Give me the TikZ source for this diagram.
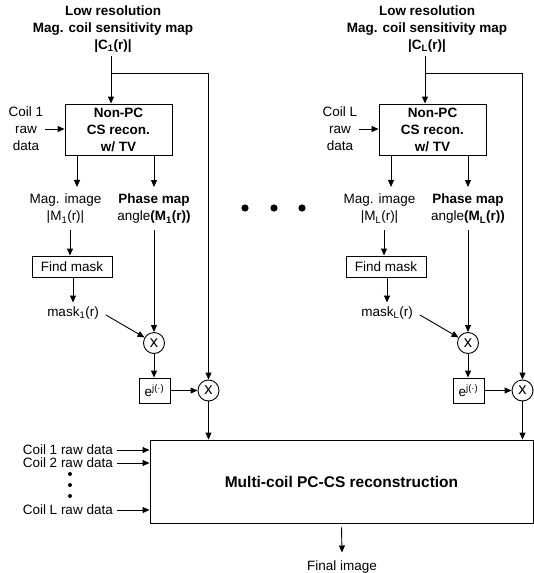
\documentclass[tikz,border=0pt]{standalone}
\usepackage{fontspec}
\setmainfont{Liberation Sans}
\usetikzlibrary{arrows.meta,calc}
\tikzset{
 base/.style={font=\fontsize{13.5}{17}\selectfont, align=center, inner sep=1pt},
 bt/.style={base, font=\fontsize{13.5}{17}\selectfont\bfseries},
 rect/.style={draw, line width=0.9pt},
 circ/.style={draw, circle, minimum size=21pt, inner sep=0pt, line width=0.9pt, font=\fontsize{16.5}{16}\selectfont},
 arr/.style={-{Triangle[length=7pt,width=6pt]}, line width=0.9pt},
}
\newcommand\coilcolumn[4]{%
\begin{scope}[xshift=#4]
\node[bt] (title#1) at (113,29) {Low resolution\\Mag. coil sensitivity map\\|C\textsubscript{#2}(r)|};
\node[bt, rect, minimum width=107pt, minimum height=51pt] (box#1) at (118.5,129.5) {Non-PC\\CS recon.\\w/ TV};
\node[base] (coil#1) at (26,129) {Coil #3\\raw\\data};
\node[base] (mag#1) at (65.5,209) {Mag. image\\|M\textsubscript{#2}(r)|};
\node[bt] (phase#1) at (154,209) {Phase map\\{\mdseries angle}(M\textsubscript{#2}(r))};
\node[base, rect, minimum width=80pt, minimum height=21pt] (mask#1) at (72,266.5) {Find mask};
\node[base] (mk#1) at (73,313) {mask\textsubscript{#2}(r)};
\node[circ] (ca#1) at (154,343) {x};
\node[base, rect, minimum width=31pt, minimum height=25pt, inner sep=0pt] (exp#1) at (154.5,390.5) {e\textsuperscript{j(\textperiodcentered)}};
\node[circ] (cb#1) at (208.5,390.5) {x};
\coordinate (top#1) at (111,56);
\coordinate (br#1) at (111,73);
\draw[arr] (top#1) -- (top#1 |- box#1.north);
\draw[arr] (br#1) -| (cb#1.north);
\draw[arr] ($(coil#1.east)+(1,0)$) -- (box#1.west |- coil#1.east);
\draw[arr] ($(box#1.south)+(-41.5,0)$) -- ($(mag#1.north)+(11.5,-6)$);
\draw[arr] (phase#1.north |- box#1.south) -- ($(phase#1.north)+(0,-6)$);
\draw[arr] ($(mag#1.south -| mask#1.north)+(-2,5)$) -- ($(mask#1.north)+(-2,0)$);
\draw[arr] (mask#1.south -| mk#1.north) -- ($(mk#1.north)+(0,-3)$);
\draw[arr] ($(mk#1.east)+(6,2)$) -- (ca#1);
\draw[arr] ($(phase#1.south)+(0,5)$) -- (ca#1.north);
\draw[arr] (ca#1.south) -- (exp#1.north -| ca#1.south);
\draw[arr] (exp#1.east) -- (cb#1.west);
\draw[arr] (cb#1.south) -- (cb#1.south |- big.north);
\end{scope}}
\begin{document}
\begin{tikzpicture}[x=1pt,y=-1pt]
\useasboundingbox (0,0) rectangle (534,573);
\node[bt, rect, minimum width=383pt, minimum height=83pt, font=\fontsize{15.5}{18}\selectfont\bfseries] (big) at (341.5,481.5) {Multi-coil PC-CS reconstruction};
\coilcolumn{a}{1}{1}{0pt}
\coilcolumn{b}{L}{L}{314pt}
\fill (245,208) circle (3.6);
\fill (274,208) circle (3.6);
\fill (302,208) circle (3.6);
\node[base, anchor=east] (r1) at (114,450) {Coil 1 raw data};
\node[base, anchor=east] (r2) at (114,463) {Coil 2 raw data};
\node[base, anchor=east] (rL) at (114,510) {Coil L raw data};
\fill (70,474) circle (2);
\fill (70,485) circle (2);
\fill (70,496) circle (2);
\draw[arr] ($(r1.east)+(3,0)$) -- (big.west |- r1.east);
\draw[arr] ($(r2.east)+(3,0)$) -- (big.west |- r2.east);
\draw[arr] ($(rL.east)+(3,0)$) -- (big.west |- rL.east);
\node[base] (final) at (342,567) {Final image};
\draw[arr] ($(big.south)+(0,4)$) -- ($(final.north)+(0,-7)$);
\end{tikzpicture}
\end{document}
